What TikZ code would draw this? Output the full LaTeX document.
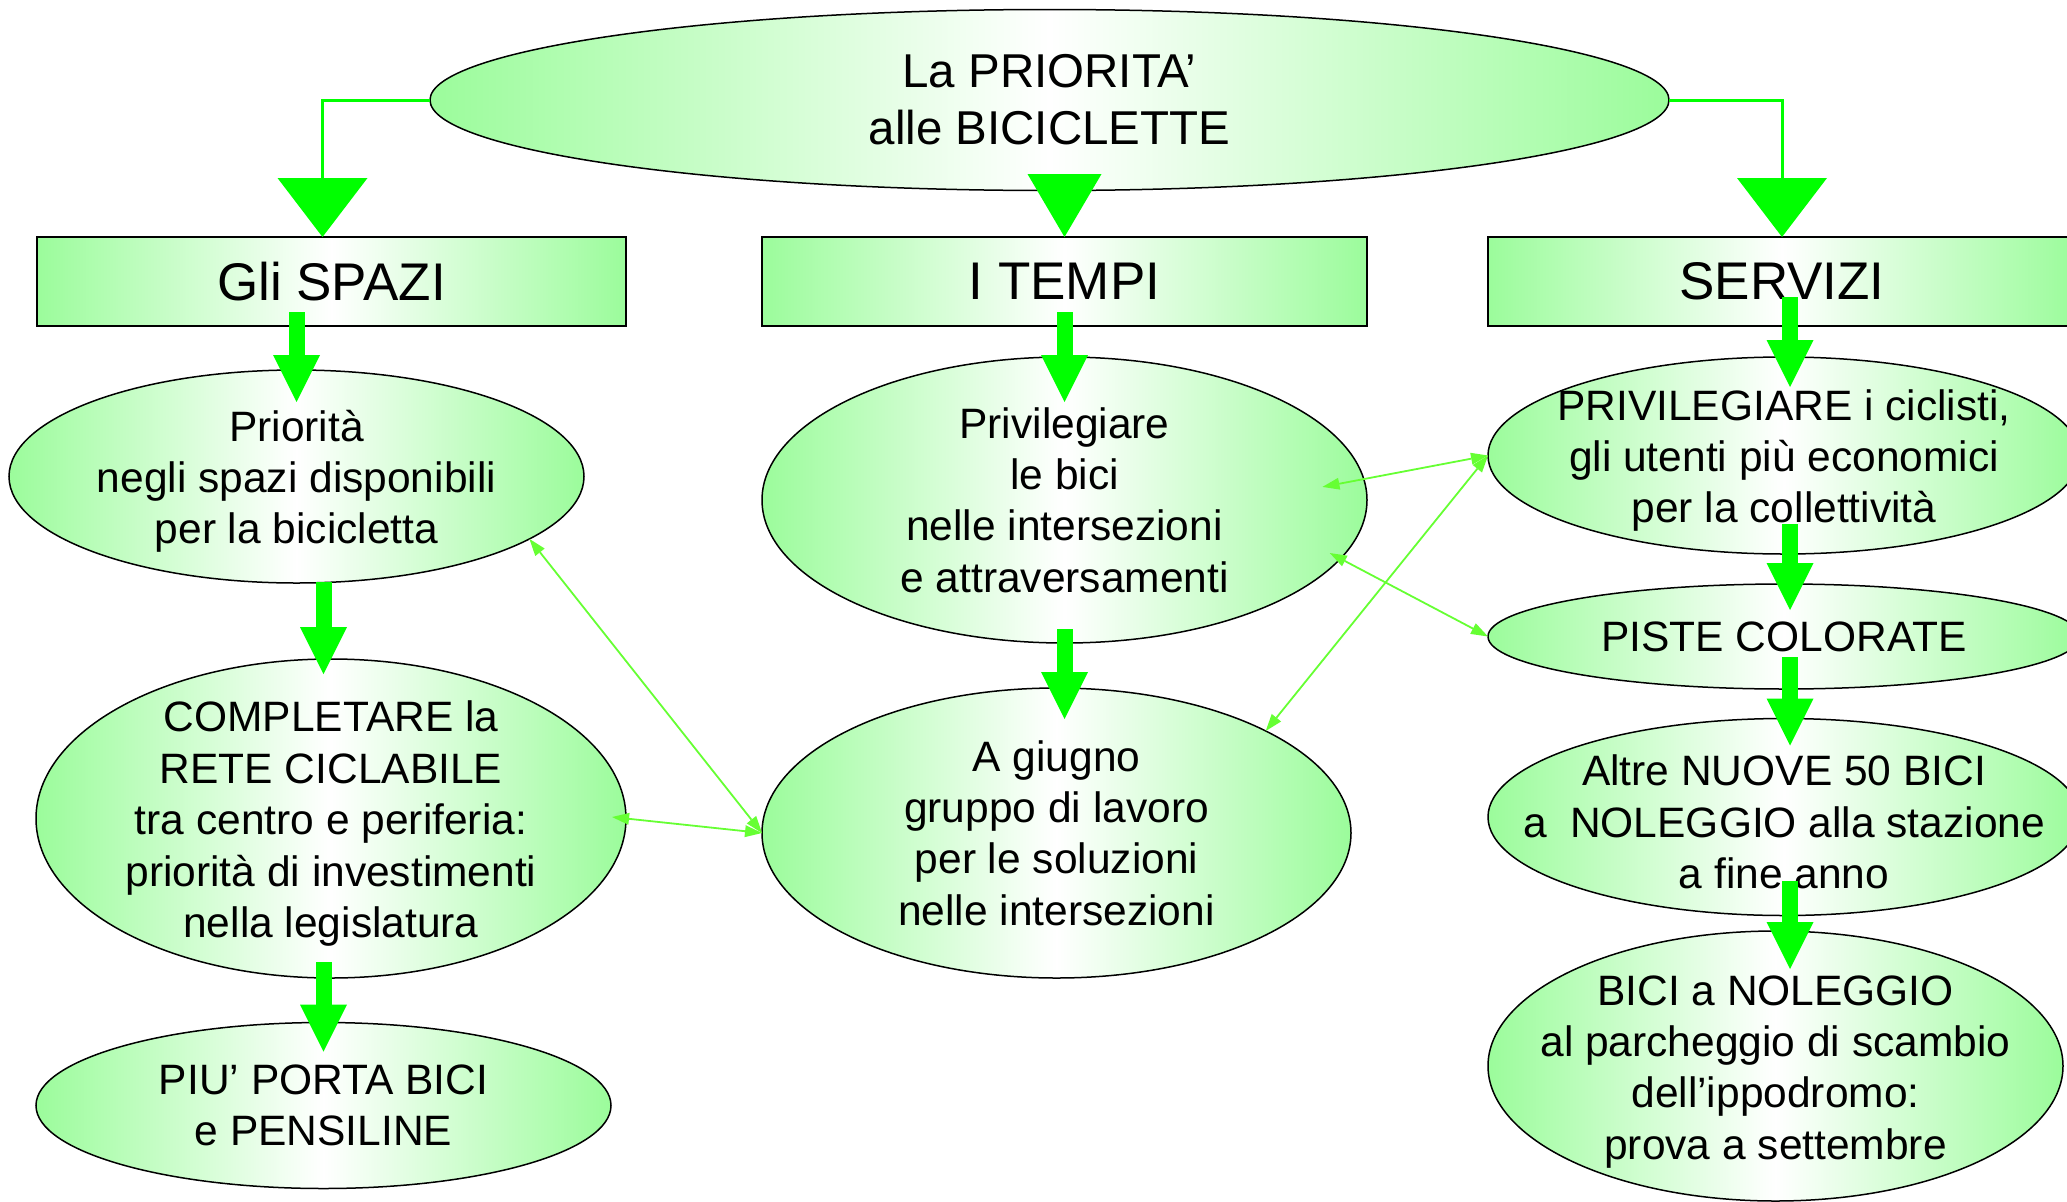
\documentclass[tikz,border=0pt]{standalone}
\usepackage{fontspec}
\setmainfont{Liberation Sans}
\usetikzlibrary{arrows.meta,calc,shapes.geometric}

\definecolor{foglia}{RGB}{155,252,155}
\definecolor{verde}{RGB}{0,255,0}
\definecolor{verdino}{RGB}{102,255,51}

\newcommand{\alto}{\rule{0pt}{41pt}}

\tikzset{
  sfondo/.style={left color=foglia, right color=foglia, middle color=white},
  bolla/.style={ellipse, draw=black, line width=1.5pt, sfondo, inner sep=-60pt, outer sep=0pt,
    align=center, font=\fontsize{42.5}{51.4}\selectfont},
  titolo/.style={rectangle, draw=black, line width=1.7pt, sfondo, outer sep=0pt,
    font=\fontsize{53}{64}\selectfont},
  freccia/.style={draw=verde, line width=16pt, -{Triangle[length=47pt,width=47pt,line width=0pt]}},
  gomito/.style={draw=verde, line width=3pt, -{Triangle[length=59pt,width=90pt,line width=0pt]}},
  legame/.style={draw=verdino, line width=1.8pt,
    {Triangle[length=17pt,width=12pt,line width=0pt]}-{Triangle[length=17pt,width=12pt,line width=0pt]}}
}

\begin{document}
\begin{tikzpicture}[x=1pt,y=-1pt]
  \path[use as bounding box, fill=white] (0,0) rectangle (2067,1202);
  \clip (0,0) rectangle (2067,1202);

  % Nodi
  \node[bolla, minimum width=1239pt, minimum height=181pt, font=\fontsize{47.5}{57}\selectfont]
    (radice) at (1049.5,100) {La PRIORITA’\\alle BICICLETTE};

  \node[titolo, minimum width=589pt, minimum height=89pt] (spazi) at (331.5,281.5) {Gli SPAZI};
  \node[titolo, minimum width=605pt, minimum height=89pt] (tempi) at (1064.5,281.5) {I TEMPI};
  \node[titolo, minimum width=588pt, minimum height=89pt] (servizi) at (1782,281.5) {SERVIZI};

  \node[bolla, minimum width=575pt, minimum height=213pt] (disp) at (296.5,476.5)
    {\alto Priorità\\negli spazi disponibili\\per la bicicletta};
  \node[bolla, minimum width=590pt, minimum height=319pt] (rete) at (331,818.5)
    {\alto COMPLETARE la\\RETE CICLABILE\\tra centro e periferia:\\priorità di investimenti\\nella legislatura};
  \node[bolla, minimum width=575pt, minimum height=166pt] (porta) at (323.5,1105.5)
    {PIU’ PORTA BICI\\e PENSILINE};

  \node[bolla, minimum width=605pt, minimum height=286pt] (incroci) at (1064.5,500)
    {Privilegiare\\le bici\\nelle intersezioni\\e attraversamenti};
  \node[bolla, minimum width=589pt, minimum height=290pt] (giugno) at (1056.5,833)
    {A giugno\\gruppo di lavoro\\per le soluzioni\\nelle intersezioni};

  \node[bolla, minimum width=592pt, minimum height=197pt] (ciclisti) at (1784,455.5)
    {\alto PRIVILEGIARE i ciclisti,\\gli utenti più economici\\per la collettività};
  \node[bolla, minimum width=592pt, minimum height=105pt] (piste) at (1784,636.5)
    {PISTE COLORATE};
  \node[bolla, minimum width=592pt, minimum height=197pt] (nuove) at (1784,817)
    {\alto Altre NUOVE 50 BICI\\a~ NOLEGGIO alla stazione\\a fine anno};
  \node[bolla, minimum width=575pt, minimum height=270pt] (noleggio) at (1775.5,1066)
    {\alto BICI a NOLEGGIO\\al parcheggio di scambio\\dell’ippodromo:\\prova a settembre};

  % legami sottili
  \draw[legame] (disp.-15) -- (giugno.west);
  \draw[legame, shorten <=-14pt] (rete.east) -- (giugno.west);
  \draw[legame, shorten <=-42pt] (incroci.4) -- (ciclisti.west);
  \draw[legame, shorten <=-12pt] (incroci.-12) -- (piste.west);
  \draw[legame] (giugno.26) -- (ciclisti.west);

  % frecce
  \draw[gomito] (radice.west) -| ([xshift=-9pt]spazi.north);
  \draw[gomito] (radice.east) -| (servizi.north);
  \draw[gomito, -{Triangle[length=63pt,width=74pt,line width=0pt]}]
    ($(radice.south -| tempi.north)+(0,-14)$) -- (tempi.north);

  \draw[freccia, shorten <=-14pt, shorten >=-32pt] (spazi.south -| disp.north) -- (disp.north);
  \draw[freccia, shorten <=-1pt, shorten >=-15pt] (disp.south -| porta.north) -- (rete.north -| porta.north);
  \draw[freccia, shorten <=-16pt, shorten >=-29pt] (rete.south -| porta.north) -- (porta.north);

  \draw[freccia, shorten <=-14pt, shorten >=-45pt] (tempi.south -| incroci.north) -- (incroci.north);
  \draw[freccia, shorten <=-14pt, shorten >=-31pt] (incroci.south) -- (giugno.north -| incroci.south);

  \draw[freccia, shorten <=-29pt, shorten >=-30pt] ($(servizi.south -| ciclisti.north)+(6,0)$) -- ($(ciclisti.north)+(6,0)$);
  \draw[freccia, shorten <=-30pt, shorten >=-26pt] ($(ciclisti.south)+(6,0)$) -- ($(piste.north)+(6,0)$);
  \draw[freccia, shorten <=-32pt, shorten >=-27pt] ($(piste.south)+(6,0)$) -- ($(nuove.north)+(6,0)$);
  \draw[freccia, shorten <=-35pt, shorten >=-38pt] ($(nuove.south)+(6,0)$) -- ($(noleggio.north -| nuove.south)+(6,0)$);
\end{tikzpicture}
\end{document}
